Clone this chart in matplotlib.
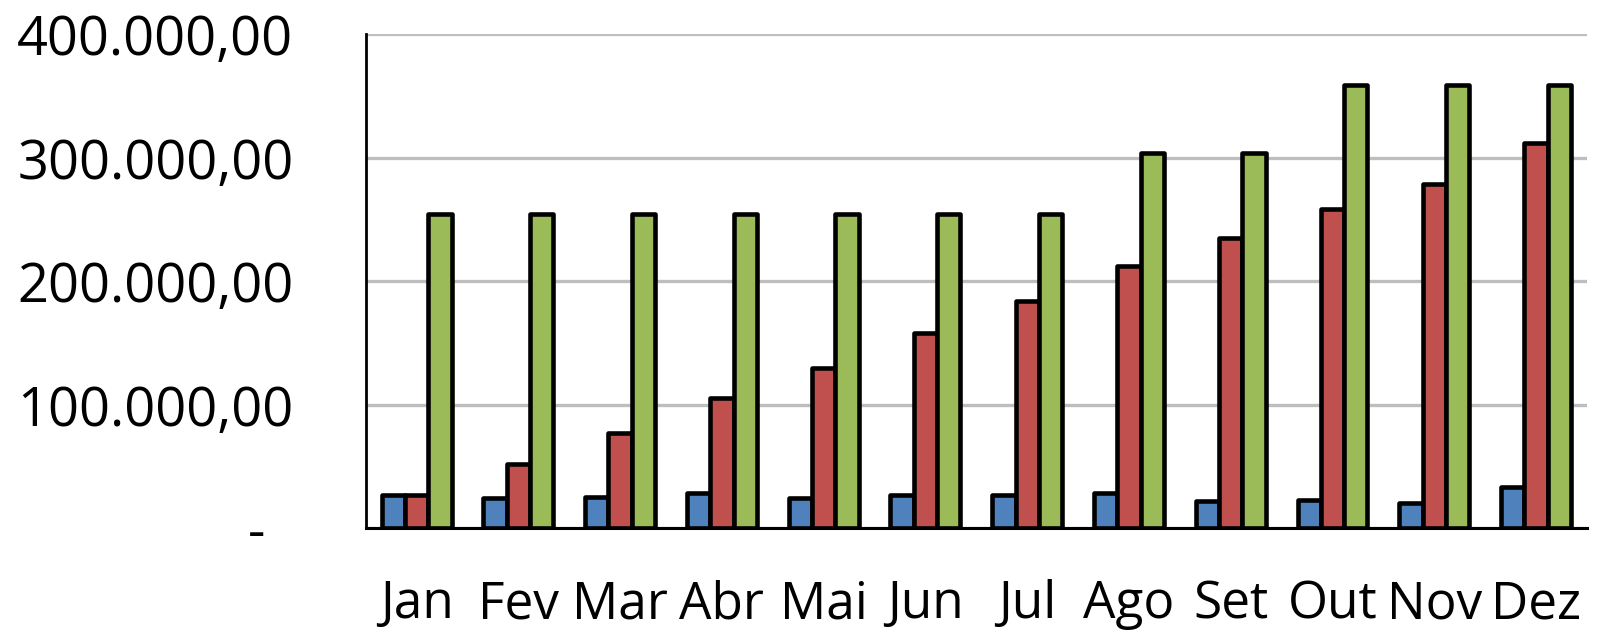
import matplotlib.pyplot as plt
import numpy as np

# values
months = ['Jan', 'Fev', 'Mar', 'Abr', 'Mai', 'Jun',
          'Jul', 'Ago', 'Set', 'Out', 'Nov', 'Dez']
blue = [26700, 24000, 25000, 28000, 24000, 26700,
        26700, 28000, 22000, 22600, 20000, 32900]
red = [26700, 51700, 76700, 105000, 129800, 157800,
       184000, 212400, 234800, 258000, 278400, 312000]
green = [254000, 254000, 254000, 254000, 254000, 254000,
         254000, 303500, 303500, 358600, 358600, 358600]
yticks = [0, 100000, 200000, 300000, 400000]
ytick_labels = ['-  ', '100.000,00', '200.000,00', '300.000,00', '400.000,00']

colors = ['#4F81BD', '#C0504D', '#9BBB59']

plt.rcParams['font.family'] = ['Open Sans', 'DejaVu Sans']

fig = plt.figure(figsize=(15.97, 6.36), dpi=100)
ax = fig.add_axes([0.229, 0.1698, 0.7647, 0.7767])

x = np.arange(len(months))
w = 0.229
for i, (vals, c) in enumerate(zip([blue, red, green], colors)):
    bars = ax.bar(x + (i - 1) * w, vals, width=w, color=c,
                  edgecolor='black', linewidth=3.3, zorder=3)
    for b in bars:
        b.set_joinstyle('round')

ax.set_xlim(-0.5, len(months) - 0.5)
ax.set_ylim(0, 400000)
ax.set_yticks(yticks)
ax.set_yticklabels(ytick_labels)
ax.set_xticks(x)
ax.set_xticklabels(months)
ax.tick_params(axis='y', length=0, pad=52, labelsize=39)
ax.tick_params(axis='x', length=0, pad=37, labelsize=37)

ax.yaxis.grid(True, color='#BEBEBE', linewidth=2.4, zorder=0)
ax.set_axisbelow(True)
for s in ['top', 'right']:
    ax.spines[s].set_visible(False)
ax.spines['left'].set_linewidth(2.0)
ax.spines['bottom'].set_linewidth(2.2)
ax.spines['bottom'].set_zorder(4)

fig.savefig('out.png', dpi=100)
